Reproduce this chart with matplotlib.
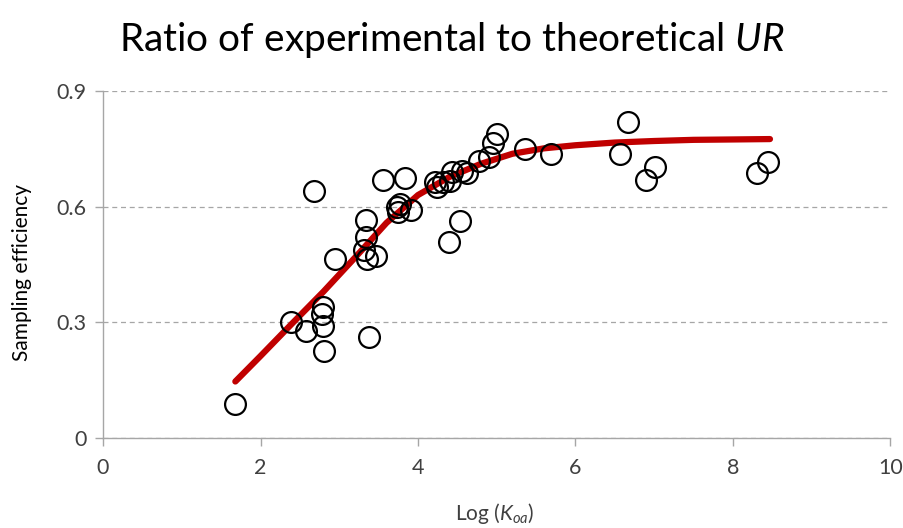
import matplotlib
matplotlib.use("Agg")
import matplotlib.pyplot as plt

plt.rcParams['font.family'] = ['Lato', 'DejaVu Sans']
plt.rcParams['mathtext.fontset'] = 'custom'
plt.rcParams['mathtext.rm'] = 'Lato'
plt.rcParams['mathtext.it'] = 'Lato:italic'

# Observed sampling efficiency
log_koa = [1.68, 2.39, 2.58, 2.79, 2.78, 2.79, 2.80, 2.68, 2.95, 3.38,
           3.34, 3.34, 3.32, 3.35, 3.47, 3.56, 3.84, 3.73, 3.75, 3.77,
           3.91, 4.22, 4.24, 4.32, 4.41, 4.43, 4.56, 4.62, 4.53, 4.39,
           4.78, 4.90, 4.95, 5.00, 5.36, 5.69, 6.56, 6.67, 7.01, 6.90,
           8.31, 8.45]
efficiency = [0.088, 0.301, 0.277, 0.341, 0.322, 0.290, 0.225, 0.641, 0.465, 0.262,
              0.566, 0.522, 0.488, 0.465, 0.471, 0.669, 0.673, 0.598, 0.585, 0.607,
              0.591, 0.663, 0.652, 0.663, 0.667, 0.689, 0.693, 0.686, 0.564, 0.508,
              0.719, 0.729, 0.766, 0.788, 0.750, 0.736, 0.736, 0.820, 0.703, 0.669,
              0.686, 0.716]

# Theoretical / fitted curve
curve_x = [1.68, 2.0, 2.4, 2.8, 3.2, 3.6, 4.0, 4.4, 4.8, 5.2, 5.6, 6.0,
           6.5, 7.0, 7.5, 8.0, 8.47]
curve_y = [0.147, 0.213, 0.297, 0.380, 0.468, 0.558, 0.630, 0.677, 0.711, 0.737,
           0.751, 0.759, 0.766, 0.770, 0.773, 0.774, 0.775]

x_ticks = [0, 2, 4, 6, 8, 10]
y_ticks = [0, 0.3, 0.6, 0.9]
y_tick_labels = ["0", "0.3", "0.6", "0.9"]

fig = plt.figure(figsize=(9.04, 5.28), dpi=100)
ax = fig.add_axes([0.114, 0.170, 0.871, 0.658])

ax.plot(curve_x, curve_y, color='#C00000', lw=4.5, solid_capstyle='round',
        solid_joinstyle='round', zorder=2)
ax.plot(log_koa, efficiency, linestyle='none', marker='o', markersize=15,
        markerfacecolor='none', markeredgecolor='black', markeredgewidth=1.6, zorder=3)

ax.set_xlim(0, 10)
ax.set_ylim(0, 0.9)
ax.set_xticks(x_ticks)
ax.set_yticks(y_ticks)
ax.set_yticklabels(y_tick_labels)
ax.grid(axis='y', linestyle=(0, (4, 3)), color='#A6A6A6', lw=0.9)
ax.set_axisbelow(True)
for s in ['top', 'right']:
    ax.spines[s].set_visible(False)
for s in ['left', 'bottom']:
    ax.spines[s].set_color('#A6A6A6')
    ax.spines[s].set_linewidth(1.0)
ax.tick_params(axis='both', colors='#A6A6A6', labelcolor='#404040', labelsize=15.5,
               length=6, width=1.0, direction='out')
ax.tick_params(axis='x', pad=8)
ax.tick_params(axis='y', pad=6)

fig.text(0.5, 0.924, r"Ratio of experimental to theoretical $UR$", ha='center',
         va='center', fontsize=28, color='black')
fig.text(0.547, 0.027, r"Log ($K_{oa}$)", ha='center', va='center',
         fontsize=15, color='#404040')
fig.text(0.024, 0.483, "Sampling efficiency", rotation=90, ha='center',
         va='center', fontsize=15, color='black')

fig.savefig('out.png', dpi=100)
